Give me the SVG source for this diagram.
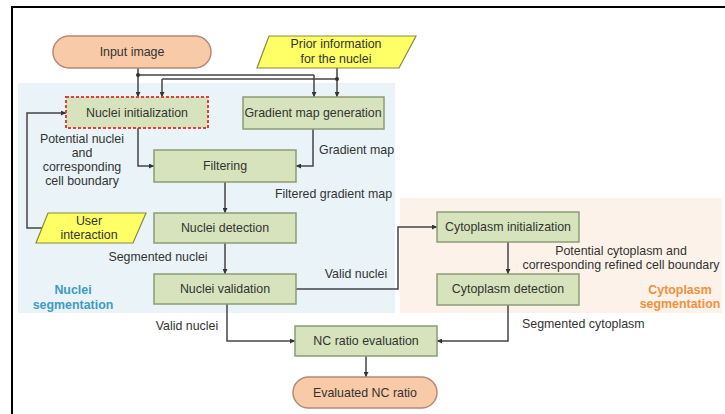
<svg xmlns="http://www.w3.org/2000/svg" width="725" height="414" viewBox="0 0 725 414">
<defs>
<marker id="ah" viewBox="0 0 10 10" refX="10" refY="5" markerWidth="5" markerHeight="5" orient="auto" markerUnits="userSpaceOnUse"><path d="M0,0 L10,5 L0,10 z" fill="#333"/></marker>
<style>
.t{font-family:"Liberation Sans",Arial,sans-serif;font-size:12.4px;fill:#333;text-anchor:middle;dominant-baseline:central}
.l{font-family:"Liberation Sans",Arial,sans-serif;font-size:12.4px;fill:#333;dominant-baseline:central}
.box{fill:#d7e3bc;stroke:#8c9c74;stroke-width:1.5}
.term{fill:#f9caa8;stroke:#b48a74;stroke-width:1.5}
.io{fill:#ffff66;stroke:#8a8a40;stroke-width:1.2}
.c{fill:none;stroke:#444;stroke-width:1.5;marker-end:url(#ah)}
.cn{fill:none;stroke:#444;stroke-width:1.5}
.sec{font-family:"Liberation Sans",Arial,sans-serif;font-size:12.4px;font-weight:bold;text-anchor:middle;dominant-baseline:central}
</style>
</defs>
<rect width="725" height="414" fill="#fff"/>
<path d="M12,414 V7 H725" fill="none" stroke="#000" stroke-width="2"/>
<rect x="18" y="83" width="377" height="230" fill="#e9f3f8"/>
<rect x="400" y="198" width="322" height="115" fill="#fdf2e9"/>
<text class="sec" fill="#3e9cc4" x="73" y="290">Nuclei</text>
<text class="sec" fill="#3e9cc4" x="73" y="305">segmentation</text>
<text class="sec" fill="#f0913c" x="680" y="290">Cytoplasm</text>
<text class="sec" fill="#f0913c" x="680" y="304">segmentation</text>
<g id="connectors">
<path class="cn" d="M138,68 V75 H314"/>
<path class="c" d="M138,75 V97"/>
<path class="c" d="M314,75 V97"/>
<path class="cn" d="M337,68 V79 H162"/>
<path class="c" d="M337,79 V97"/>
<path class="c" d="M162,79 V97"/>
<circle cx="138" cy="75" r="2" fill="#333"/>
<circle cx="337" cy="79" r="2" fill="#333"/>
<path class="c" d="M42,228 H27 V113 H66"/>
<path class="c" d="M138,128 V166 H154"/>
<path class="c" d="M313,129 V166 H296"/>
<path class="c" d="M225,182 V213"/>
<path class="c" d="M225,243 V274"/>
<path class="c" d="M296,289 H398 V227 H437"/>
<path class="c" d="M508,242 V274"/>
<path class="c" d="M508,305 V341 H437"/>
<path class="c" d="M227,304 V341 H295"/>
<path class="c" d="M366,356 V377"/>
<text class="t" x="82" y="139">Potential nuclei</text>
<text class="t" x="82" y="153">and</text>
<text class="t" x="82" y="167">corresponding</text>
<text class="t" x="82" y="181">cell boundary</text>
<text class="l" x="319" y="150">Gradient map</text>
<text class="l" x="275" y="194">Filtered gradient map</text>
<text class="t" x="158" y="257">Segmented nuclei</text>
<text class="t" x="356" y="274">Valid nuclei</text>
<text class="t" x="621" y="251">Potential cytoplasm and</text>
<text class="t" x="621" y="265">corresponding refined cell boundary</text>
<text class="l" x="522" y="324">Segmented cytoplasm</text>
<text class="t" x="187" y="326">Valid nuclei</text>
</g>
<g id="input-image"><rect class="term" x="53" y="36" width="158" height="32" rx="16"/><text class="t" x="132" y="52">Input image</text></g>
<g id="prior-info"><polygon class="io" points="269,36 416,36 399,68 257,68"/><text class="t" x="336" y="44">Prior information</text><text class="t" x="336" y="59">for the nuclei</text></g>
<g id="nuclei-init"><rect class="box" x="66" y="97" width="142" height="31" style="stroke:#e0403c;stroke-dasharray:3,2;stroke-width:2"/><text class="t" x="137" y="113">Nuclei initialization</text></g>
<g id="gradient-gen"><rect class="box" x="243" y="97" width="141" height="32"/><text class="t" x="313" y="113">Gradient map generation</text></g>
<g id="filtering"><rect class="box" x="154" y="150" width="142" height="32"/><text class="t" x="225" y="166">Filtering</text></g>
<g id="user-interaction"><polygon class="io" points="48,213 146,213 133,243 36,243"/><text class="t" x="89" y="221">User</text><text class="t" x="89" y="235">interaction</text></g>
<g id="nuclei-detection"><rect class="box" x="154" y="213" width="142" height="30"/><text class="t" x="225" y="228">Nuclei detection</text></g>
<g id="nuclei-validation"><rect class="box" x="154" y="274" width="142" height="30"/><text class="t" x="225" y="289">Nuclei validation</text></g>
<g id="cyto-init"><rect class="box" x="437" y="212" width="142" height="30"/><text class="t" x="508" y="227">Cytoplasm initialization</text></g>
<g id="cyto-detection"><rect class="box" x="437" y="274" width="142" height="31"/><text class="t" x="508" y="289">Cytoplasm detection</text></g>
<g id="nc-eval"><rect class="box" x="295" y="326" width="142" height="30"/><text class="t" x="366" y="341">NC ratio evaluation</text></g>
<g id="evaluated-nc"><rect class="term" x="293" y="377" width="144" height="31" rx="15.5"/><text class="t" x="365" y="393">Evaluated NC ratio</text></g>
</svg>
